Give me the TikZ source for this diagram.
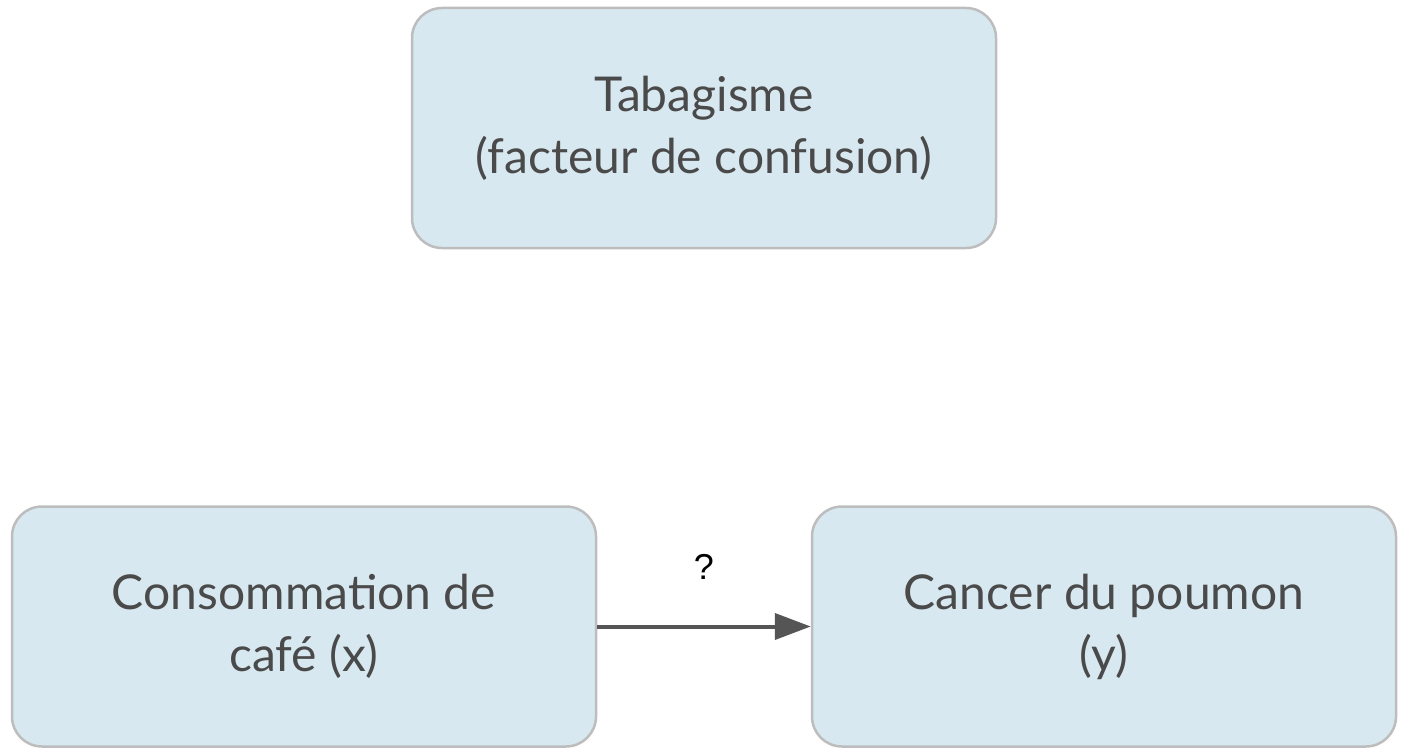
\documentclass[tikz,border=0pt]{standalone}
\usepackage{fontspec}
\setmainfont{Lato}
\newfontfamily\qfont{Liberation Sans}
\usetikzlibrary{arrows.meta,positioning}
\definecolor{boxfill}{HTML}{D8E8F0}
\definecolor{boxline}{HTML}{BDBDBD}
\definecolor{textgray}{HTML}{4A4A4A}
\definecolor{arrowgray}{HTML}{555555}
\begin{document}
\begin{tikzpicture}[
    x=1pt, y=1pt,
    box/.style={rectangle, rounded corners=30pt, draw=boxline, line width=2.5pt, fill=boxfill,
        minimum width=584pt, minimum height=240pt, align=center, text=textgray,
        font=\fontsize{48}{62}\selectfont},
    arrow/.style={-{Triangle[length=36pt, width=26pt]}, line width=4pt, draw=arrowgray}
]
\useasboundingbox (0,0) rectangle (1408,-752);

% Nodes
\node [box] (smoke) at (704,-128) {Tabagisme\\(facteur de confusion)};
\node [box] (coffee) at (304,-626.5) {Consommation de\\caf\'e (x)};
\node [box] (cancer) at (1104,-626.5) {Cancer du poumon\\(y)};

% Link
\draw [arrow] (coffee) -- (cancer) node[midway, above=42pt, font=\qfont\fontsize{36}{40}\selectfont, text=black] {?};

\end{tikzpicture}
\end{document}
